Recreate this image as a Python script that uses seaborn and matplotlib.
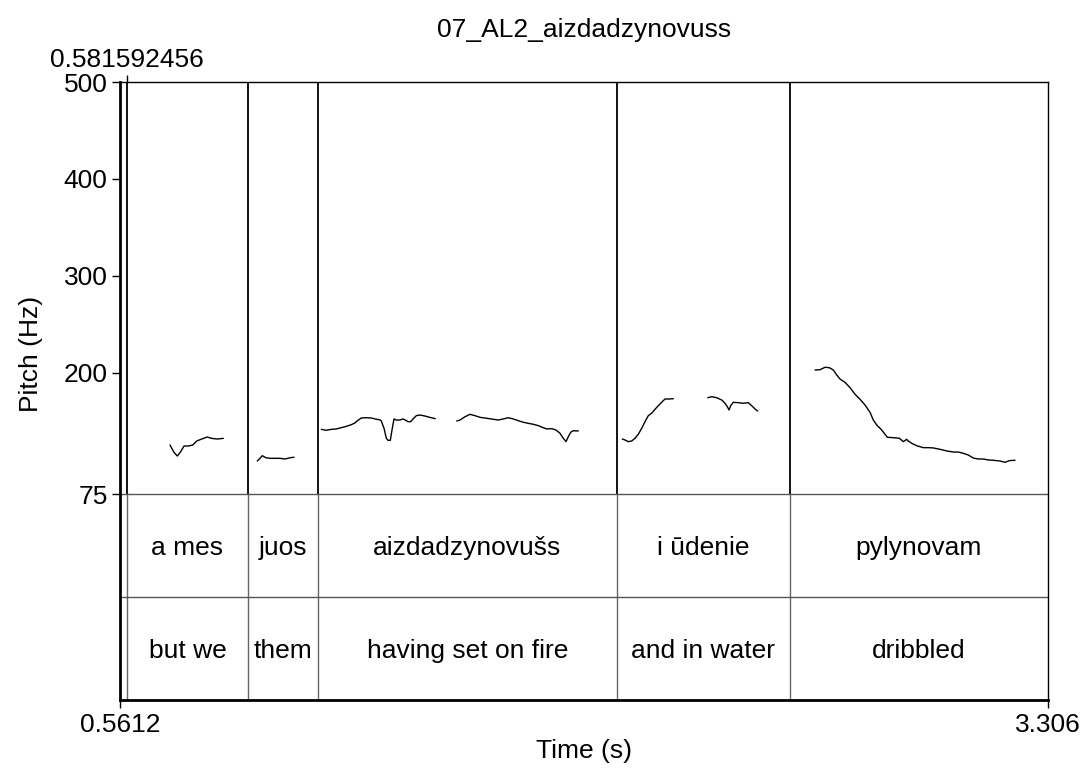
import pandas as pd
import seaborn as sns
import numpy as np
import matplotlib.pyplot as plt

# pitch contours (time in s, pitch in Hz)
seg1_t = [0.7091, 0.7209, 0.7307, 0.7407, 0.7505, 0.7632, 0.7762, 0.7881, 0.8029, 0.8191, 0.8322, 0.8487, 0.8667]
seg1_f = [125.5, 118.0, 114.2, 118.6, 124.5, 124.5, 125.5, 129.7, 131.7, 133.8, 132.4, 131.7, 132.4]

seg2_t = [0.9673, 0.9753, 0.9821, 0.9930, 1.0049, 1.0197, 1.0344, 1.0492, 1.0640, 1.0758]
seg2_f = [109.0, 111.8, 114.5, 112.4, 111.8, 111.8, 111.8, 111.1, 112.4, 112.9]

seg3_t = [1.1566, 1.1714, 1.1862, 1.2010, 1.2158, 1.2306, 1.2453, 1.2554, 1.2652, 1.2749, 1.2897,
          1.3045, 1.3193, 1.3293, 1.3341, 1.3421, 1.3489, 1.3539, 1.3607, 1.3657, 1.3716, 1.3784,
          1.3885, 1.3983, 1.4051, 1.4130, 1.4210, 1.4278, 1.4376, 1.4477, 1.4624, 1.4772, 1.4938]
seg3_f = [141.7, 140.7, 141.7, 142.1, 143.4, 144.8, 146.5, 148.2, 151.0, 153.4, 153.7,
          153.4, 152.1, 151.6, 150.3, 142.8, 132.5, 130.4, 130.4, 141.0, 152.4, 151.3,
          151.3, 152.4, 151.3, 149.6, 149.6, 152.4, 155.8, 156.5, 155.5, 154.1, 152.7]

seg4_t = [1.5571, 1.5669, 1.5816, 1.5964, 1.6112, 1.6260, 1.6458, 1.6654, 1.6801, 1.6949, 1.7097,
          1.7245, 1.7393, 1.7541, 1.7689, 1.7837, 1.7985, 1.8132, 1.8233, 1.8381, 1.8508, 1.8626,
          1.8724, 1.8804, 1.8872, 1.8943, 1.9020, 1.9168]
seg4_f = [150.3, 151.3, 154.7, 157.2, 155.8, 154.1, 153.1, 152.1, 151.3, 152.4, 153.7,
          152.4, 150.6, 149.0, 147.9, 146.9, 145.5, 143.4, 142.1, 142.4, 141.0, 137.6,
          132.5, 129.0, 134.1, 138.7, 140.3, 140.0]

seg5_t = [2.0469, 2.0549, 2.0647, 2.0747, 2.0845, 2.0942, 2.1043, 2.1140, 2.1238, 2.1339, 2.1436,
          2.1534, 2.1634, 2.1732, 2.1850, 2.1978]
seg5_f = [131.7, 130.7, 129.0, 129.7, 132.5, 136.6, 142.8, 149.6, 155.8, 158.3, 162.4,
          166.1, 169.6, 173.0, 173.0, 173.3]

seg6_t = [2.2995, 2.3113, 2.3261, 2.3409, 2.3507, 2.3575, 2.3625, 2.3675, 2.3752, 2.3900, 2.4048,
          2.4196, 2.4296, 2.4394, 2.4474]
seg6_f = [174.3, 175.4, 174.3, 172.0, 168.6, 165.1, 161.7, 166.1, 169.6, 169.2, 168.6,
          169.2, 166.1, 162.7, 160.6]

seg7_t = [2.6169, 2.6317, 2.6464, 2.6592, 2.6710, 2.6811, 2.6908, 2.7056, 2.7204, 2.7352, 2.7500,
          2.7648, 2.7796, 2.7893, 2.7994, 2.8142, 2.8307, 2.8485, 2.8662, 2.8781, 2.8881, 2.8928,
          2.9029, 2.9177, 2.9372, 2.9520, 2.9668, 2.9866, 3.0064, 3.0259, 3.0407, 3.0555, 3.0703,
          3.0851, 3.0999, 3.1147, 3.1295, 3.1443, 3.1641, 3.1789, 3.1916, 3.2084]
seg7_f = [202.9, 203.2, 205.7, 205.3, 202.9, 197.8, 193.6, 190.2, 184.7, 177.9, 172.7,
          166.8, 159.3, 151.3, 146.2, 141.0, 133.5, 133.1, 132.5, 129.0, 131.4, 129.7,
          127.3, 124.8, 122.8, 122.8, 122.5, 121.1, 119.4, 118.3, 118.3, 117.0, 115.2,
          112.1, 111.1, 111.1, 110.1, 109.8, 109.0, 107.7, 109.4, 109.8]

# interval tiers
t_start = 0.5612
t_end = 3.306
marker_t = 0.581592456
boundaries = [0.581592456, 0.9398, 1.1468, 2.0312, 2.5429]
edges = [0.581592456, 0.9398, 1.1468, 2.0312, 2.5429, 3.306]
tier1 = ["a mes", "juos", "aizdadzynovušs", "i ūdenie", "pylynovam"]
tier2 = ["but we", "them", "having set on fire", "and in water", "dribbled"]

yticks = [75, 200, 300, 400, 500]

sns.set_style("white")
plt.rcParams['font.family'] = ['Liberation Sans', 'DejaVu Sans']
for key in ['text.color', 'axes.labelcolor', 'xtick.color', 'ytick.color', 'axes.edgecolor']:
    plt.rcParams[key] = 'black'
fs = 19

segs = [(seg1_t, seg1_f), (seg2_t, seg2_f), (seg3_t, seg3_f), (seg4_t, seg4_f),
        (seg5_t, seg5_f), (seg6_t, seg6_f), (seg7_t, seg7_f)]
df = pd.concat([pd.DataFrame({"time": t, "pitch": f, "seg": i}) for i, (t, f) in enumerate(segs)])

fig = plt.figure(figsize=(10.83, 7.69), dpi=100)
ax = fig.add_axes([120/1083, 1-700/769, 928/1083, 618/769])

# pitch region 75..500, each tier the same height below it
tier_h = 106.25
y_bottom = 75 - 2 * tier_h
ax.set_xlim(t_start, t_end)
ax.set_ylim(y_bottom, 500)

sns.lineplot(data=df, x="time", y="pitch", units="seg", estimator=None, sort=False,
             color="black", lw=1, ax=ax)

# boundaries: black in pitch area, grey in tiers
ax.vlines(boundaries, 75, 500, color="black", lw=1.3)
ax.vlines(boundaries, y_bottom, 75, color="#666666", lw=1)
ax.hlines([75, 75 - tier_h], t_start, t_end, color="#555555", lw=1)

for i in range(len(tier1)):
    cx = (edges[i] + edges[i + 1]) / 2
    ax.text(cx, 75 - tier_h / 2, tier1[i], ha="center", va="center_baseline", fontsize=fs)
    ax.text(cx, 75 - 1.5 * tier_h, tier2[i], ha="center", va="center_baseline", fontsize=fs)

ax.set_yticks(yticks)
ax.set_yticklabels([str(v) for v in yticks], fontsize=fs)
ax.set_xticks([t_start, t_end])
ax.set_xticklabels(["0.5612", "3.306"], fontsize=fs)
ax.tick_params(axis="both", direction="out", length=6, width=1, color="black", pad=3,
               left=True, bottom=True)
ax.set_xlabel("Time (s)", fontsize=fs, labelpad=1.5)
ax.set_ylabel("Pitch (Hz)", fontsize=fs, labelpad=15)
ax.yaxis.label.set_y(0.56)

for side in ["left", "bottom"]:
    ax.spines[side].set_linewidth(2)
for side in ["top", "right"]:
    ax.spines[side].set_linewidth(1)
for sp in ax.spines.values():
    sp.set_color("black")
    sp.set_visible(True)

top = ax.secondary_xaxis("top")
top.set_xticks([marker_t])
top.set_xticklabels(["0.581592456"], fontsize=fs)
top.tick_params(direction="out", length=5, width=1, pad=2.5)
top.spines["top"].set_visible(False)

fig.text(584/1083, 1-30/769, "07_AL2_aizdadzynovuss", ha="center", va="center", fontsize=fs)

plt.savefig("out.png", dpi=100)
